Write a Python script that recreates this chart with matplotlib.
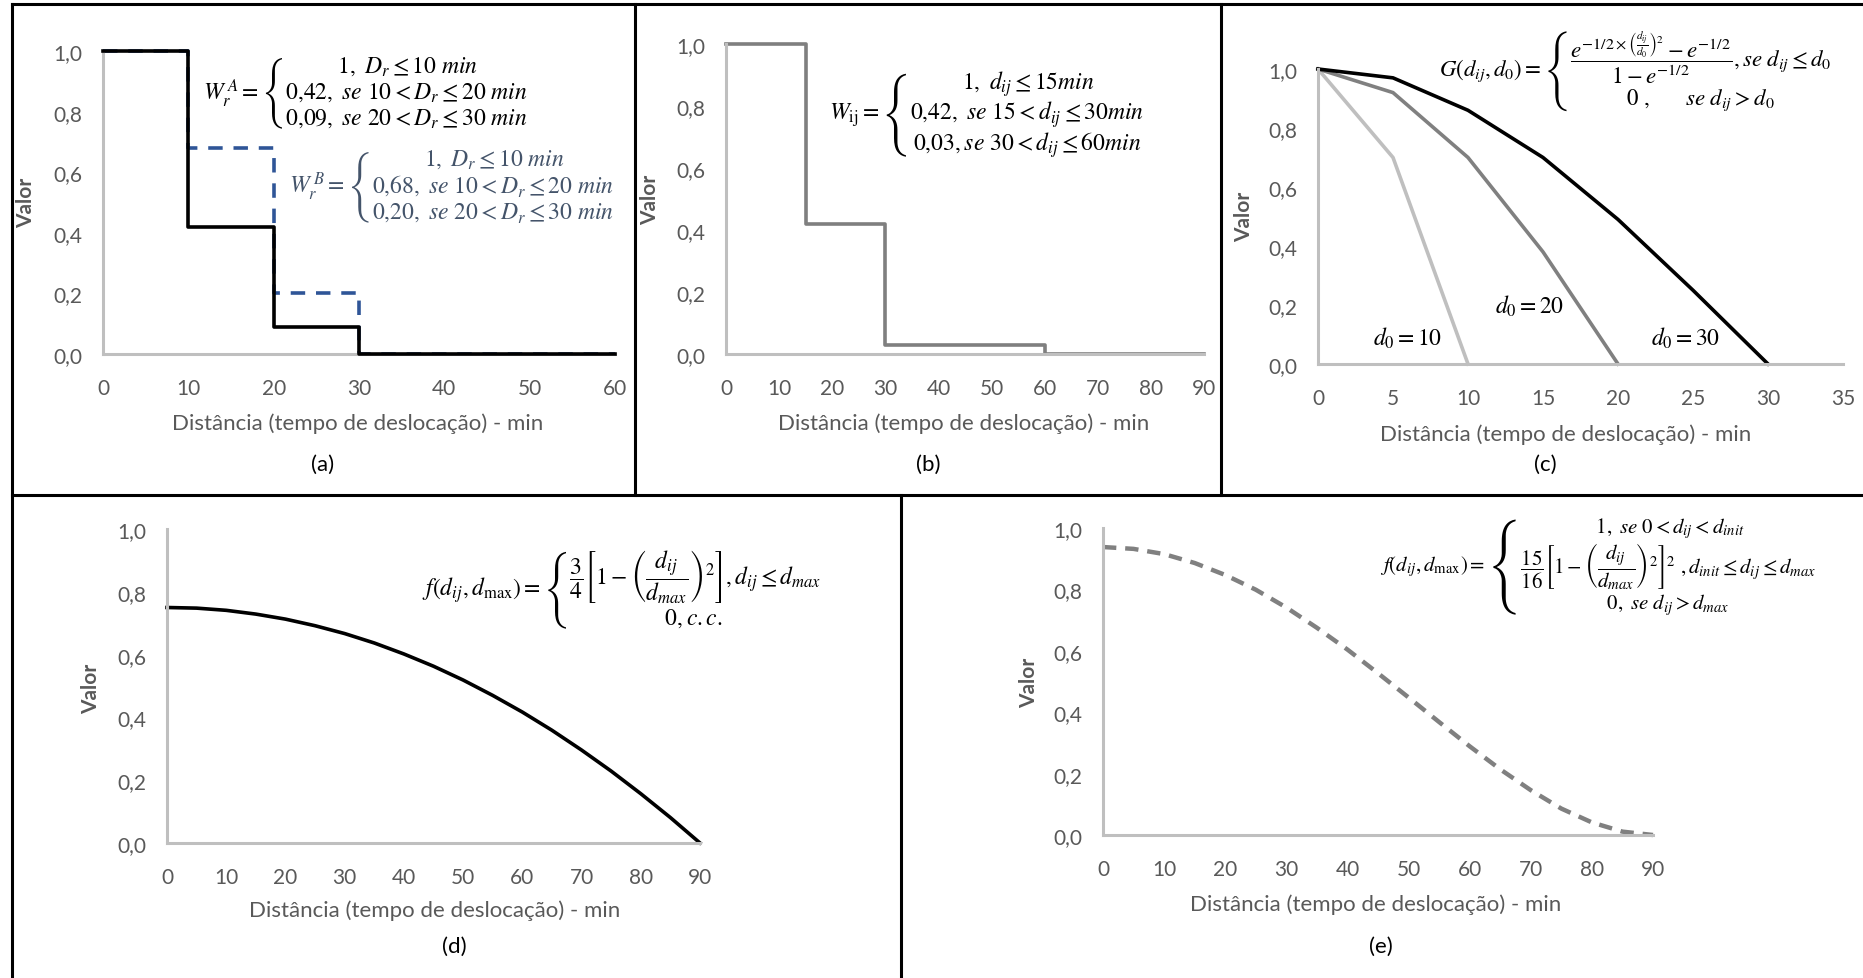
import matplotlib
matplotlib.use('Agg')
import matplotlib.pyplot as plt
from matplotlib.lines import Line2D

plt.rcParams['font.family'] = ['Lato', 'DejaVu Sans']
plt.rcParams['mathtext.fontset'] = 'stix'

W, H = 1863, 979

# (a) funcoes escada W_r^A e W_r^B
a_x = [0, 10, 20, 30, 60]
a_wA = [1.0, 0.42, 0.09, 0.0, 0.0]
a_wB = [1.0, 0.68, 0.20, 0.0, 0.0]

# (b) W_ij
b_x = [0, 15, 30, 60, 90]
b_w = [1.0, 0.42, 0.03, 0.0, 0.0]

# (c) gaussiana G(d_ij, d0)
c_x10 = [0, 5, 10]
c_g10 = [1.0, 0.70, 0.0]
c_x20 = [0, 5, 10, 15, 20]
c_g20 = [1.0, 0.92, 0.70, 0.38, 0.0]
c_x30 = [0, 5, 10, 15, 20, 25, 30]
c_g30 = [1.0, 0.97, 0.86, 0.70, 0.49, 0.25, 0.0]

# (d) epanechnikov
d_x = [0, 5, 10, 15, 20, 25, 30, 35, 40, 45, 50, 55, 60, 65, 70, 75, 80, 85, 90]
d_f = [0.750, 0.748, 0.741, 0.729, 0.713, 0.692, 0.667, 0.637, 0.602, 0.563,
       0.519, 0.470, 0.417, 0.359, 0.296, 0.229, 0.157, 0.081, 0.0]

# (e) quartica
e_x = [0, 5, 10, 15, 20, 25, 30, 35, 40, 45, 50, 55, 60, 65, 70, 75, 80, 85, 90]
e_f = [0.938, 0.932, 0.915, 0.886, 0.847, 0.799, 0.741, 0.675, 0.604, 0.527,
       0.448, 0.368, 0.289, 0.214, 0.146, 0.086, 0.041, 0.011, 0.0]

y_ticks = [0, 0.2, 0.4, 0.6, 0.8, 1.0]
y_labels = ['0,0', '0,2', '0,4', '0,6', '0,8', '1,0']
xlab = 'Distância (tempo de deslocação) - min'

TXT = '#595959'
SPINE = '#bfbfbf'

fig = plt.figure(figsize=(W / 100, H / 100), dpi=100)


def px_axes(x0, x1, ytop, ybot):
    return fig.add_axes([x0 / W, 1 - ybot / H, (x1 - x0) / W, (ybot - ytop) / H])


def ftext(x, y, s, **kw):
    return fig.text(x / W, 1 - y / H, s, **kw)


def style(ax, xmax, xstep):
    ax.set_xlim(0, xmax)
    ax.set_ylim(0, 1)
    ax.set_xticks(list(range(0, xmax + 1, xstep)))
    ax.set_yticks(y_ticks)
    ax.set_yticklabels(y_labels)
    for s in ['top', 'right']:
        ax.spines[s].set_visible(False)
    for s in ['left', 'bottom']:
        ax.spines[s].set_color(SPINE)
        ax.spines[s].set_linewidth(2.2)
    ax.tick_params(length=0, labelsize=15, labelcolor=TXT)
    ax.tick_params(axis='x', pad=17)
    ax.tick_params(axis='y', pad=15)
    ax.patch.set_alpha(0)


def labels(ax_lab, v_lab, p_lab, letter):
    ftext(*ax_lab, xlab, ha='center', va='center', fontsize=16, color=TXT)
    ftext(*v_lab, 'Valor', ha='center', va='center', fontsize=15, color=TXT,
          fontweight='bold', rotation=90)
    ftext(*p_lab, letter, ha='center', va='center', fontsize=16, color='black')


def cases(x, y, lhs, lines, size, color='black'):
    # empilha as linhas com genfrac sem barra, chave a esquerda
    body = lines[-1]
    for ln in reversed(lines[:-1]):
        body = r'\genfrac{}{}{0}{0}{' + ln + '}{' + body + '}'
    ftext(x, y, '$' + lhs + '=$', ha='right', va='center', fontsize=size, color=color)
    ftext(x + 2, y, r'$\left\{' + body + r'\right.$', ha='left', va='center',
          fontsize=size, color=color)


# ---- (a)
ax = px_axes(103, 615, 52, 355)
style(ax, 60, 10)
ax.plot(a_x, a_wB, drawstyle='steps-post', color='#2f5597', lw=2.6,
        ls=(0, (4, 3)), clip_on=False, zorder=2)
ax.plot(a_x, a_wA, drawstyle='steps-post', color='black', lw=2.6,
        clip_on=False, zorder=3)
labels((358, 424), (26, 203), (323, 465), '(a)')
cases(259, 93, r'W_r^{\,A}', [r'1,\ D_r \leq 10\ min',
                             r'0{,}42,\ se\ 10 < D_r \leq 20\ min',
                             r'0{,}09,\ se\ 20 < D_r \leq 30\ min'], 17)
cases(345, 187, r'W_r^{\,B}', [r'1,\ D_r \leq 10\ min',
                              r'0{,}68,\ se\ 10 < D_r \leq 20\ min',
                              r'0{,}20,\ se\ 20 < D_r \leq 30\ min'], 17, '#44546a')

# ---- (b)
ax = px_axes(726, 1204, 45, 355)
style(ax, 90, 10)
ax.plot(b_x, b_w, drawstyle='steps-post', color='#7f7f7f', lw=2.6, clip_on=False)
labels((964, 424), (650, 200), (928, 465), '(b)')
cases(879, 115, r'W_{\mathrm{ij}}', [r'1,\ d_{ij} \leq 15 min',
                                     r'0{,}42,\ se\ 15 < d_{ij} \leq 30 min',
                                     r'0{,}03, se\ 30 < d_{ij} \leq 60 min'], 17)

# ---- (c)
ax = px_axes(1318, 1843, 70, 365)
style(ax, 35, 5)
ax.plot(c_x10, c_g10, color='#bfbfbf', lw=2.6, clip_on=False)
ax.plot(c_x20, c_g20, color='#808080', lw=2.6, clip_on=False)
ax.plot(c_x30, c_g30, color='black', lw=2.6, clip_on=False)
ax.text(6.0, 0.09, r'$d_0 = 10$', ha='center', va='center', fontsize=17)
ax.text(14.1, 0.20, r'$d_0 = 20$', ha='center', va='center', fontsize=17)
ax.text(24.5, 0.09, r'$d_0 = 30$', ha='center', va='center', fontsize=17)
labels((1566, 435), (1244, 217), (1545, 465), '(c)')
cases(1541, 71, r'G\left(d_{ij},d_0\right)',
      [r'\dfrac{e^{-1/2\times\left(\frac{d_{ij}}{d_0}\right)^2} - e^{-1/2}}{1-e^{-1/2}}, se\ d_{ij} \leq d_0',
       r'0\ ,\qquad se\ d_{ij} > d_0'], 16.5)

# ---- (d)
ax = px_axes(167, 700, 530, 844)
style(ax, 90, 10)
ax.plot(d_x, d_f, color='black', lw=2.6, clip_on=False)
labels((435, 911), (91, 689), (454, 947), '(d)')
cases(541, 590, r'f(d_{ij},d_{\max}) ',
      [r'\dfrac{3}{4}\left[1-\left(\dfrac{d_{ij}}{d_{max}}\right)^2\right], d_{ij} \leq d_{max}',
       r'0, c.c.'], 17)

# ---- (e)
ax = px_axes(1103, 1653, 529, 836)
style(ax, 90, 10)
ax.plot(e_x, e_f, color='#808080', lw=3.2, ls=(0, (3, 2)), clip_on=False)
labels((1376, 905), (1029, 683), (1381, 947), '(e)')
cases(1485, 567, r'f(d_{ij},d_{\max}) ',
      [r'1,\ se\ 0 < d_{ij} < d_{init}',
       r'\dfrac{15}{16}\left[1-\left(\dfrac{d_{ij}}{d_{max}}\right)^2\right]^2\ , d_{init} \leq d_{ij} \leq d_{max}',
       r'0,\ se\ d_{ij} > d_{max}'], 15)

# molduras
frame = [((12, 1863), (5, 5)), ((12, 12), (5, 979)), ((12, 1863), (496, 496)),
         ((635, 635), (5, 496)), ((1221, 1221), (5, 496)), ((901, 901), (496, 979))]
for (xs, ys) in frame:
    fig.add_artist(Line2D([x / W for x in xs], [1 - y / H for y in ys],
                          color='black', lw=2.2, transform=fig.transFigure))

fig.savefig('out.png', dpi=100)
